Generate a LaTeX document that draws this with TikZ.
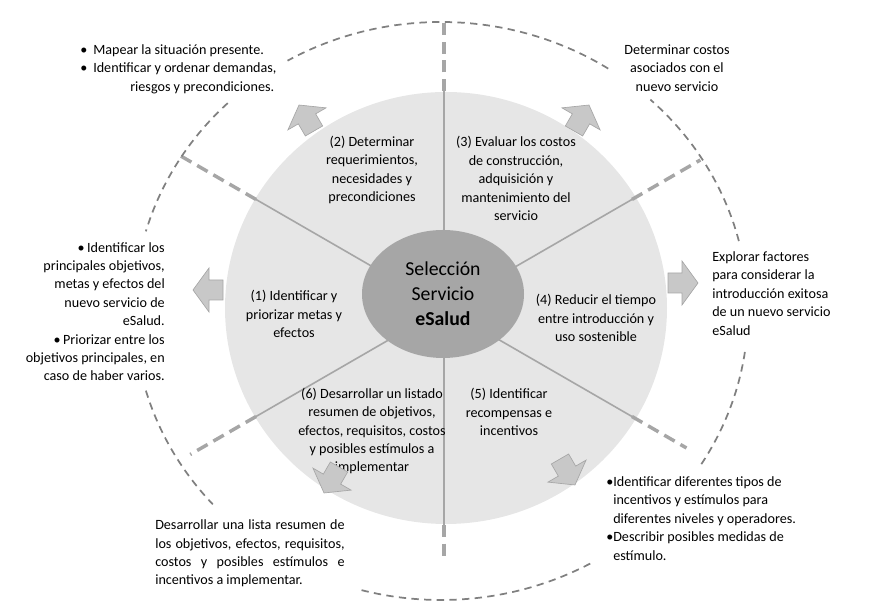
\documentclass[tikz,border=0pt]{standalone}
\usepackage{fontspec}
\setmainfont{Carlito}
\usetikzlibrary{shapes.geometric}
\definecolor{disco}{RGB}{230,230,230}
\definecolor{nucleo}{RGB}{166,166,166}
\definecolor{raya}{RGB}{166,166,166}
\definecolor{borde}{RGB}{128,128,128}
\definecolor{flechagris}{RGB}{200,200,200}
\tikzset{radial/.style = {raya, line width=1.2pt}}
\tikzset{radialdash/.style = {raya, line width=2.6pt, dash pattern=on 9pt off 5pt}}
\tikzset{contorno/.style = {borde, line width=1.3pt, dash pattern=on 5.5pt off 4pt}}
\tikzset{bloque/.style = {fill=flechagris, draw=raya, line width=0.5pt, line join=miter}}
\tikzset{sector/.style = {align=center, inner sep=0, font=\fontsize{10.6}{13.8}\selectfont}}
\tikzset{nota/.style = {inner sep=0, font=\fontsize{10.6}{13.8}\selectfont}}
\newcommand{\flecha}[2]{\draw[bloque, shift={#1}, rotate=#2]
  (0,-10) -- (14,-10) -- (14,-22) -- (30,0) -- (14,22) -- (14,10) -- (0,10) -- cycle;}

\begin{document}
\begin{tikzpicture}[x=0.75pt, y=0.75pt]
  \useasboundingbox (0,0) rectangle (872,616);
  \coordinate (c) at (444,308);
  \fill [disco] (446,308) ellipse [x radius=221, y radius=216];

  % radios
  \begin{scope}[shift={(c)}]
    \foreach \a/\l in {30/296, 90/286, 150/305, 210/293, 270/254, 330/280} {
      \draw [radial] (0,0) -- (\a:217);
      \draw [radialdash] (\a:217) -- (\a:\l);
    }
  \end{scope}

  % contorno exterior
  \foreach \a/\b in {57/120, 134/164, 196/222, 255/300, 328/352, 14/47}
    \draw [contorno] ({441+307*cos(\a)},{305+289*sin(\a)})
      arc [start angle=\a, end angle=\b, x radius=307, y radius=289];

  \node [ellipse, fill=nucleo, minimum width=121.5pt, minimum height=96pt, inner sep=0,
         align=center, font=\fontsize{14.8}{18.75}\selectfont] (centro) at (443,322)
        {Selección\\Servicio\\\textbf{eSalud}};

  \node [sector] (s1) at (294,302) {(1) Identificar y\\priorizar metas y\\efectos};
  \node [sector] (s2) at (372,446) {(2) Determinar\\requerimientos,\\necesidades y\\precondiciones};
  \node [sector] (s3) at (516,437.5) {(3) Evaluar los costos\\de construcción,\\adquisición y\\mantenimiento del\\servicio};
  \node [sector] (s4) at (596,298) {(4) Reducir el tiempo\\entre introducción y\\uso sostenible};
  \node [sector] (s5) at (509,204) {(5) Identificar\\recompensas e\\incentivos};
  \node [sector] (s6) at (372,185) {(6) Desarrollar un listado\\resumen de objetivos,\\efectos, requisitos, costos\\y posibles estímulos a\\implementar};

  % flechas
  \flecha{(223,326)}{180}
  \flecha{(314,485)}{120}
  \flecha{(574,485)}{60}
  \flecha{(668,333)}{0}
  \flecha{(560,157)}{300}
  \flecha{(339,149)}{240}

  \node [nota, anchor=east, align=right] (n1) at (165,304.3)
        {\textbullet\,Identificar los\\principales objetivos,\\metas y efectos del\\nuevo servicio de\\eSalud.\\\textbullet\,Priorizar entre los\\objetivos principales, en\\caso de haber varios.};
  \node [nota, anchor=west, align=left] (n2) at (80,547)
        {\makebox[9.75pt][l]{\textbullet}Mapear la situación presente.\\\makebox[9.75pt][l]{\textbullet}Identificar y ordenar demandas,\\\hspace*{37.5pt}riesgos y precondiciones.};
  \node [nota, align=center] (n3) at (677,548) {Determinar costos\\asociados con el\\nuevo servicio};
  \node [nota, anchor=west, align=left] (n4) at (712,322.5)
        {Explorar factores\\para considerar la\\introducción exitosa\\de un nuevo servicio\\eSalud};
  \node [nota, anchor=west, align=left] (n5) at (606,97.5)
        {\makebox[5.25pt][l]{\textbullet}Identificar diferentes tipos de\\\hspace*{5.25pt}incentivos y estímulos para\\\hspace*{5.25pt}diferentes niveles y operadores.\\\makebox[5.25pt][l]{\textbullet}Describir posibles medidas de\\\hspace*{5.25pt}estímulo.};
  \node [nota, anchor=west, text width=142pt, align=justify] (n6) at (155,62.5)
        {Desarrollar una lista resumen de\linebreak los objetivos, efectos, requisitos,\linebreak costos y posibles estímulos e\linebreak incentivos a implementar.};
\end{tikzpicture}
\end{document}
